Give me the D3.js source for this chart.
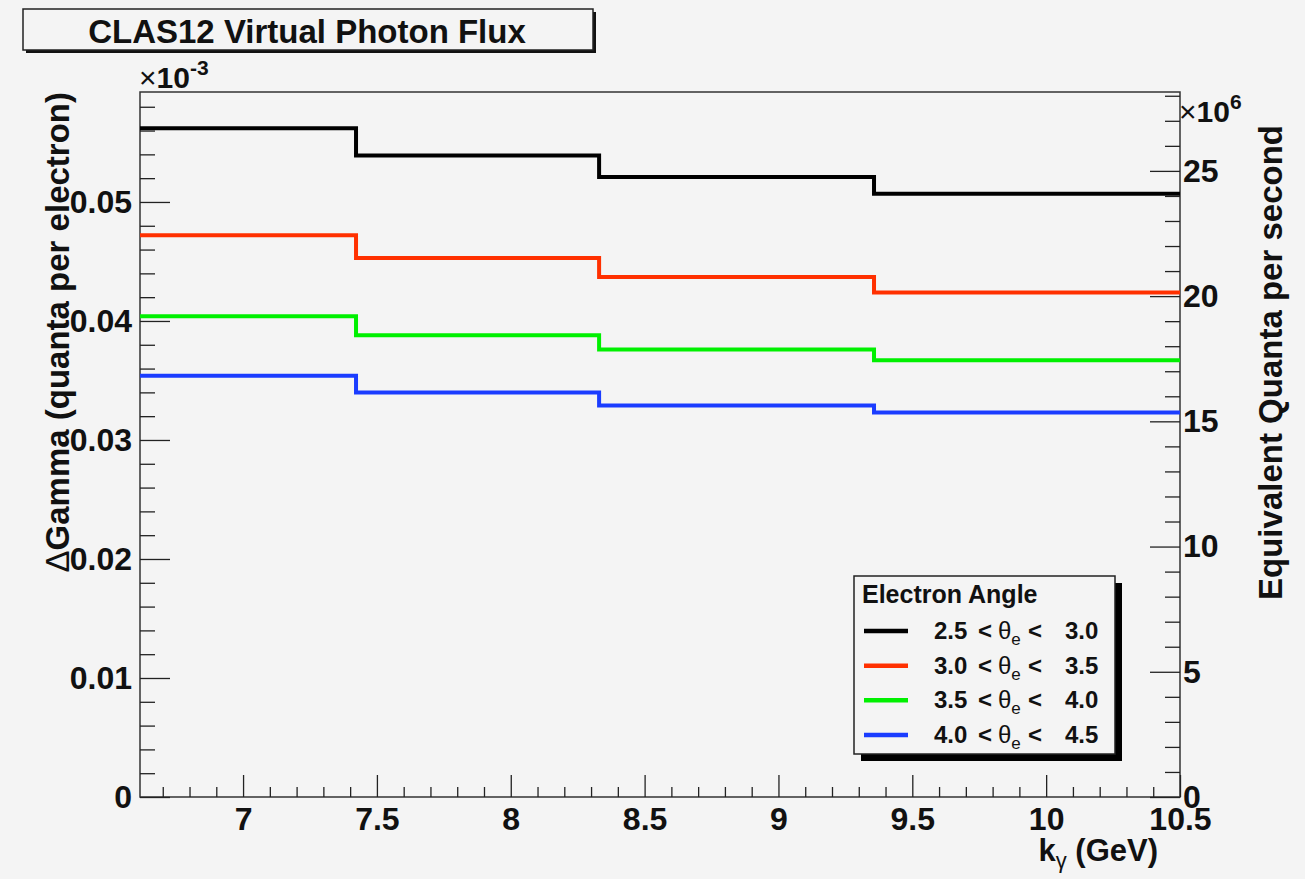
<!DOCTYPE html>
<html>
<head>
<meta charset="utf-8">
<script src="https://cdn.jsdelivr.net/npm/d3@7"></script>
<style>
  html, body { margin: 0; padding: 0; background: #f4f4f4; }
  svg { display: block; font-family: "Liberation Sans", Arial, Helvetica, sans-serif; }
</style>
</head>
<body>
<svg id="chart" width="1305" height="879"></svg>
<script>
// ---------------- data ----------------
const binEdges = [6.615, 7.422, 8.330, 9.357, 10.5];            // k_gamma (GeV)
const seriesNames = ["2.5", "3.0", "3.5", "4.0"];                // lower theta_e edge
const seriesUpper = ["3.0", "3.5", "4.0", "4.5"];                // upper theta_e edge
const black = [0.0562, 0.0539, 0.0521, 0.0507];
const red   = [0.0472, 0.0453, 0.0437, 0.0424];
const green = [0.0404, 0.0388, 0.0376, 0.0367];
const blue  = [0.0354, 0.0340, 0.0329, 0.0323];
const seriesColors = ["#000000", "#ff3000", "#00f000", "#1a3cff"];
const xMajorTicks = [7, 7.5, 8, 8.5, 9, 9.5, 10, 10.5];
const xTickLabels = ["7", "7.5", "8", "8.5", "9", "9.5", "10", "10.5"];
const yLeftTicks = [0, 0.01, 0.02, 0.03, 0.04, 0.05];
const yLeftLabels = ["0", "0.01", "0.02", "0.03", "0.04", "0.05"];
const yRightTicks = [0, 5, 10, 15, 20, 25];
const yRightLabels = ["0", "5", "10", "15", "20", "25"];
const xDomain = [6.615, 10.5];
const yLeftDomain = [0, 0.05924];
const yRightDomain = [0, 28.15];
const allSeries = [black, red, green, blue];

// ---------------- layout ----------------
const svg = d3.select("#chart");
const L = 140, R = 1180, T = 92, B = 797;
const x = d3.scaleLinear().domain(xDomain).range([L, R]);
const yL = d3.scaleLinear().domain(yLeftDomain).range([B, T]);
const yR = d3.scaleLinear().domain(yRightDomain).range([B, T]);
const FS = 32;

svg.append("rect").attr("width", 1305).attr("height", 879).attr("fill", "#f4f4f4");

// title box with shadow
svg.append("rect").attr("x", 26).attr("y", 12).attr("width", 570).attr("height", 41).attr("fill", "#111");
svg.append("rect").attr("x", 23).attr("y", 9).attr("width", 570).attr("height", 41)
  .attr("fill", "#f4f4f4").attr("stroke", "#222").attr("stroke-width", 1.5);
svg.append("text").attr("x", 307).attr("y", 43).attr("text-anchor", "middle")
  .attr("font-size", 33).attr("font-weight", "bold").attr("fill", "#111")
  .text("CLAS12 Virtual Photon Flux");

// frame
svg.append("rect").attr("x", L).attr("y", T).attr("width", R - L).attr("height", B - T)
  .attr("fill", "none").attr("stroke", "#333").attr("stroke-width", 1.5);

// histograms (step lines)
const line = d3.line().curve(d3.curveStepAfter).x(d => x(d[0])).y(d => yL(d[1]));
allSeries.forEach((vals, i) => {
  const pts = binEdges.map((e, j) => [e, vals[Math.min(j, vals.length - 1)]]);
  svg.append("path").attr("d", line(pts)).attr("fill", "none")
    .attr("stroke", seriesColors[i]).attr("stroke-width", 4)
    .attr("stroke-linejoin", "miter").attr("stroke-linecap", "butt");
});

// ---------------- axes ----------------
function styleAxis(g) {
  g.select(".domain").remove();
  g.selectAll(".tick line").attr("stroke", "#222").attr("stroke-width", 1.3);
  g.selectAll(".tick text").attr("font-size", FS).attr("font-weight", "bold").attr("fill", "#111")
    .attr("font-family", "Liberation Sans, Arial, sans-serif");
}
// x axis
const xMinor = d3.range(6.7, 10.45, 0.1).map(v => Math.round(v * 10) / 10)
  .filter(v => !xMajorTicks.some(m => Math.abs(m - v) < 1e-6));
svg.append("g").attr("transform", `translate(0,${B})`)
  .call(d3.axisBottom(x).tickValues(xMinor).tickSize(-10).tickFormat(""))
  .call(styleAxis);
svg.append("g").attr("transform", `translate(0,${B})`)
  .call(d3.axisBottom(x).tickValues(xMajorTicks).tickSize(-22).tickPadding(10)
    .tickFormat((d, i) => xTickLabels[i]))
  .call(styleAxis);

// left axis
const yLMinor = d3.range(0.002, 0.0591, 0.002).map(v => Math.round(v * 1000) / 1000)
  .filter(v => !yLeftTicks.some(m => Math.abs(m - v) < 1e-9));
svg.append("g").attr("transform", `translate(${L},0)`)
  .call(d3.axisLeft(yL).tickValues(yLMinor).tickSize(-15).tickFormat(""))
  .call(styleAxis);
svg.append("g").attr("transform", `translate(${L},0)`)
  .call(d3.axisLeft(yL).tickValues(yLeftTicks).tickSize(-30).tickPadding(8)
    .tickFormat((d, i) => yLeftLabels[i]))
  .call(styleAxis);

// right axis
const yRMinor = d3.range(1, 28.1, 1).filter(v => v % 5 !== 0);
svg.append("g").attr("transform", `translate(${R},0)`)
  .call(d3.axisRight(yR).tickValues(yRMinor).tickSize(-15).tickFormat(""))
  .call(styleAxis);
svg.append("g").attr("transform", `translate(${R},0)`)
  .call(d3.axisRight(yR).tickValues(yRightTicks).tickSize(-30).tickPadding(3)
    .tickFormat((d, i) => yRightLabels[i]))
  .call(styleAxis);

// exponent labels
function expLabel(xp, yp, exp) {
  const t = svg.append("text").attr("x", xp).attr("y", yp).attr("fill", "#111").attr("font-size", 30);
  t.append("tspan").attr("font-weight", "normal").text("×");
  t.append("tspan").attr("font-weight", "bold").text("10");
  t.append("tspan").attr("font-weight", "bold").attr("font-size", 21).attr("dy", -13).text(exp);
}
expLabel(139, 88, "-3");
expLabel(1179, 122, "6");

// axis titles
const lt = svg.append("text").attr("transform", "translate(69,92) rotate(-90)")
  .attr("text-anchor", "end").attr("font-size", 33).attr("font-weight", "bold").attr("fill", "#111");
lt.append("tspan").attr("font-weight", "normal").text("Δ");
lt.append("tspan").text("Gamma (quanta per electron)");

svg.append("text").attr("transform", "translate(1282,125) rotate(-90)")
  .attr("text-anchor", "end").attr("font-size", 33).attr("font-weight", "bold").attr("fill", "#111")
  .text("Equivalent Quanta per second");

const xt = svg.append("text").attr("x", 1158).attr("y", 861).attr("text-anchor", "end")
  .attr("font-size", 31).attr("font-weight", "bold").attr("fill", "#111");
xt.append("tspan").text("k");
xt.append("tspan").attr("font-weight", "normal").attr("font-size", 22).attr("dy", 7).text("γ");
xt.append("tspan").attr("dy", -7).text(" (GeV)");

// ---------------- legend ----------------
const LX = 854, LY = 576, LW = 261, LH = 178;
svg.append("rect").attr("x", LX + 7).attr("y", LY + 7).attr("width", LW).attr("height", LH).attr("fill", "#000");
svg.append("rect").attr("x", LX).attr("y", LY).attr("width", LW).attr("height", LH)
  .attr("fill", "#f4f4f4").attr("stroke", "#222").attr("stroke-width", 1.5);
svg.append("text").attr("x", LX + 8).attr("y", LY + 27).attr("font-size", 25).attr("font-weight", "bold")
  .attr("fill", "#111").text("Electron Angle");
const rowY = d3.scalePoint().domain(d3.range(seriesNames.length)).range([LY + 55, LY + 159]);
seriesNames.forEach((nm, i) => {
  const cy = rowY(i);
  svg.append("line").attr("x1", LX + 10).attr("x2", LX + 54).attr("y1", cy).attr("y2", cy)
    .attr("stroke", seriesColors[i]).attr("stroke-width", 4.5);
  const g = svg.append("g").attr("font-size", 24).attr("font-weight", "bold").attr("fill", "#111");
  const by = cy + 8;
  g.append("text").attr("x", LX + 80).attr("y", by).text(nm);
  g.append("text").attr("x", LX + 124).attr("y", by).text("<");
  const th = g.append("text").attr("x", LX + 144).attr("y", by).attr("font-weight", "normal");
  th.append("tspan").text("θ");
  th.append("tspan").attr("font-size", 17).attr("dy", 6).text("e");
  g.append("text").attr("x", LX + 174).attr("y", by).text("<");
  g.append("text").attr("x", LX + 211).attr("y", by).text(seriesUpper[i]);
});
</script>
</body>
</html>
